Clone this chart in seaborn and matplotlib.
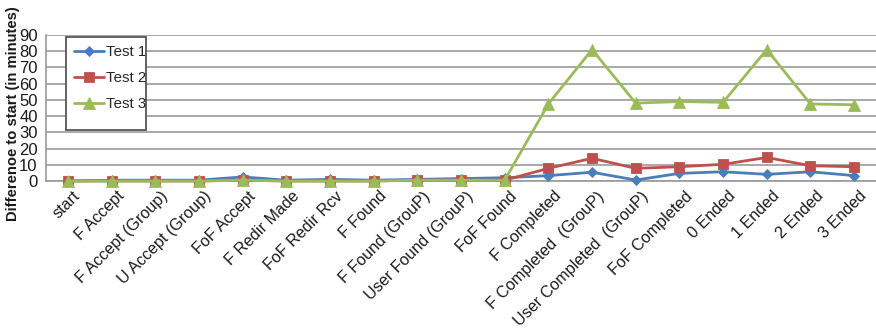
import matplotlib
matplotlib.use("Agg")
import matplotlib.pyplot as plt
import matplotlib.transforms as mtransforms
from matplotlib.patches import Rectangle
import numpy as np
import pandas as pd
import seaborn as sns

steps = [
    "start", "F Accept", "F Accept (Group)", "U Accept (Group)", "FoF Accept",
    "F Redir Made", "FoF Redir Rcv", "F Found", "F Found (GrouP)",
    "User Found (GrouP)", "FoF Found", "F Completed", "F Completed  (GrouP)",
    "User Completed  (GrouP)", "FoF Completed", "0 Ended", "1 Ended",
    "2 Ended", "3 Ended",
]
test1 = [0, 0.5, 0.5, 0.5, 2.5, 0.5, 1, 0.5, 1, 1.5, 2, 3.3, 5.4, 0.6, 4.7, 5.7, 4.1, 5.7, 3.3]
test2 = [0, 0, 0, 0, 0.5, 0, 0, 0, 0.5, 0.5, 0.5, 7.8, 14, 7.8, 8.8, 10.3, 14.5, 9.4, 8.8]
test3 = [0, 0, 0, 0, 0.5, 0, 0, 0, 0.5, 0.5, 0.5, 47.5, 81, 48, 49, 48.5, 81, 47.5, 47]
series_names = ["Test 1", "Test 2", "Test 3"]
y_ticks = list(range(0, 91, 10))

df = pd.DataFrame({
    "step": np.tile(np.arange(len(steps)), 3),
    "minutes": test1 + test2 + test3,
    "series": np.repeat(series_names, len(steps)),
})

sns.set_theme(style="white")
plt.rcParams["font.family"] = ["Liberation Sans", "DejaVu Sans"]
text_color = "#1a1a1a"

fig = plt.figure(figsize=(8.76, 3.30), dpi=100)
ax = fig.add_axes([46 / 876, 1 - 181 / 330, 830 / 876, 146 / 330])

palette = {"Test 1": "#4a7ebb", "Test 2": "#c0504d", "Test 3": "#9bbb59"}
markers = {"Test 1": "D", "Test 2": "s", "Test 3": "^"}
sizes = {"Test 1": 5.5, "Test 2": 7.5, "Test 3": 8}

for name in series_names:
    sub = df[df["series"] == name]
    sns.lineplot(data=sub, x="step", y="minutes", ax=ax, color=palette[name],
                 marker=markers[name], markersize=sizes[name], linewidth=2.0,
                 markeredgewidth=0.6, markeredgecolor=palette[name],
                 label=name, clip_on=False, zorder=3)

ax.set_xlim(-0.5, len(steps) - 0.5)
ax.set_ylim(0, 90)
ax.set_yticks(y_ticks)
ax.set_yticklabels([str(v) for v in y_ticks], fontsize=12, color=text_color)
ax.set_xticks(np.arange(len(steps) + 1) - 0.5, minor=True)
ax.set_xticks(np.arange(len(steps)))
ax.set_xticklabels(steps, rotation=45, ha="right", rotation_mode="anchor",
                   fontsize=11.6, color=text_color)
ax.tick_params(axis="x", which="major", length=0, pad=4)
ax.tick_params(axis="x", which="minor", length=5, width=1, color="#9a9a9a", direction="out")
ax.tick_params(axis="y", length=4, width=1, color="#9a9a9a", direction="out", pad=2)
ax.grid(axis="y", color="#a8a8a8", linewidth=1.4)
ax.set_axisbelow(True)

ax.set_xlabel("")
ax.set_ylabel("Differenoe to start (in minutes)", fontsize=10.6, fontweight="bold",
              color=text_color)
ax.yaxis.set_label_coords(-0.031, 0.462)

for side in ("top", "right"):
    ax.spines[side].set_visible(False)
for side in ("left", "bottom"):
    ax.spines[side].set_color("#9a9a9a")
    ax.spines[side].set_linewidth(1.2)

# legend box drawn as its own frame so it can be taller than the entries
box = Rectangle((0.0241, 0.349), 0.0964, 0.637, transform=ax.transAxes,
                facecolor="white", edgecolor="#555555", linewidth=1.3,
                zorder=5, clip_on=False)
ax.add_patch(box)
leg = ax.legend(loc="upper left", bbox_to_anchor=(0.0241, 0.986), borderaxespad=0,
                fontsize=10.8, frameon=False, handlelength=2.0,
                handletextpad=0.1, labelspacing=0.8, borderpad=0.55)
leg.set_zorder(6)

# nudge the slanted category labels so their ends sit just right of each point
fig.canvas.draw()
shift = mtransforms.ScaledTranslation(0.05, -0.02, fig.dpi_scale_trans)
for lbl in ax.xaxis.get_majorticklabels():
    lbl.set_transform(lbl.get_transform() + shift)

fig.savefig("out.png", dpi=100)
